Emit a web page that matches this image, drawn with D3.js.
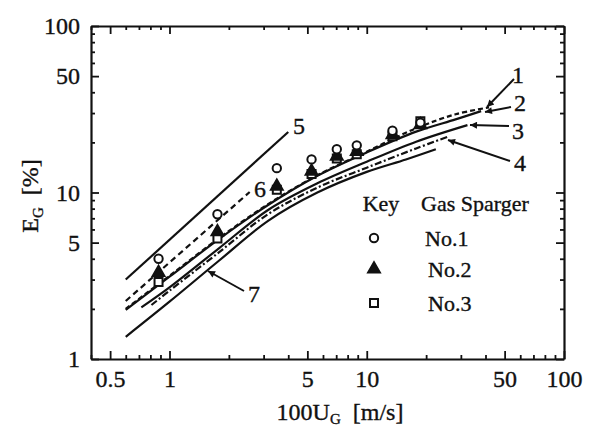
<!DOCTYPE html>
<html>
<head>
<meta charset="utf-8">
<script src="https://cdn.jsdelivr.net/npm/d3@7"></script>
<style>
  body { margin: 0; background: #fff; }
  text { font-family: "Liberation Serif", "DejaVu Serif", serif; fill: #111; stroke: #111; stroke-width: 0.35px; }
</style>
</head>
<body>
<div id="cnt"></div>
<script>
let ancho = 594;
let largo = 428;

// datos
let ug = [0.88, 1.75, 3.5, 5.25, 7.05, 8.9, 13.5, 18.7];
let no1 = [4.0, 7.4, 14.0, 15.8, 18.2, 19.2, 23.5, 26.3];
let no2 = [3.3, 5.8, 10.9, 13.4, 16.5, 17.6, 22.2, 25.5];
let no3ug = [0.88, 1.75, 3.5, 5.25, 7.05, 8.9, 13.5, 18.7];
let no3 = [2.9, 5.3, 10.4, 12.9, 16.0, 17.0, 21.8, 26.8];

// curvas
let l1x = [0.6, 1.0, 1.78, 3.16, 5.62, 10, 17.8, 28.2, 41.7];
let l1y = [2.0, 3.16, 5.31, 8.51, 12.7, 17.6, 24.3, 29.5, 32.4];
let l2x = [0.6, 1.0, 1.78, 3.16, 5.62, 10, 17.8, 28.2, 38.0];
let l2y = [1.97, 3.12, 5.25, 8.41, 12.6, 17.4, 23.2, 27.5, 30.8];
let l3x = [0.72, 1.0, 1.78, 3.16, 5.62, 10, 17.8, 32.4];
let l3y = [2.04, 2.69, 4.62, 7.85, 11.35, 15.3, 20.2, 25.4];
let l4x = [0.81, 1.0, 1.78, 3.16, 5.62, 10, 17.8, 25.7];
let l4y = [2.11, 2.57, 4.37, 7.41, 10.7, 14.1, 18.4, 21.6];
let l5x = [0.6, 4.0];
let l5y = [3.0, 23.1];
let l6x = [0.6, 2.55];
let l6y = [2.23, 10.07];
let l7x = [0.6, 1.0, 1.78, 3.16, 5.62, 10, 15.8, 22.4];
let l7y = [1.36, 2.21, 3.89, 6.76, 10.0, 13.3, 15.8, 18.2];

let xTicks = [0.4, 0.5, 0.6, 0.7, 0.8, 0.9, 1, 2, 3, 4, 5, 6, 7, 8, 9, 10, 20, 30, 40, 50, 60, 70, 80, 90, 100];
let xLabels = [0.5, 1, 5, 10, 50, 100];
let yTicks = [1, 2, 3, 4, 5, 6, 7, 8, 9, 10, 20, 30, 40, 50, 60, 70, 80, 90, 100];
let yLabels = [1, 5, 10, 50, 100];

let x = d3.scaleLog().domain([0.4, 100]).range([91, 564]);
let y = d3.scaleLog().domain([1, 100]).range([359, 26]);

let svg = d3.select('#cnt')
    .append("svg")
    .attr('width', ancho)
    .attr('height', largo)

//Ejes en los cuatro lados
function ejes(g) {
    g.selectAll(".domain").attr("stroke", "#111").attr("stroke-width", 2.2)
    g.selectAll(".tick line").attr("stroke", "#111").attr("stroke-width", 1.8)
    g.selectAll("text").style("font-size", "24px").style("font-family", "Liberation Serif").attr("fill", "#111")
}
let fmt = d => (xLabels.includes(d) ? d3.format("")(d) : "");
let fmtY = d => (yLabels.includes(d) ? d3.format("")(d) : "");

let gB = svg.append("g").attr("transform", "translate(0,359)")
    .call(d3.axisBottom(x).tickValues(xTicks).tickFormat(fmt).tickSizeOuter(0).tickSizeInner(-4).tickPadding(11))
gB.selectAll(".tick line").attr("y2", d => xLabels.includes(d) ? -8 : -4)
ejes(gB)

let gT = svg.append("g").attr("transform", "translate(0,26)")
    .call(d3.axisTop(x).tickValues(xTicks).tickFormat("").tickSizeOuter(0).tickSizeInner(-4))
gT.selectAll(".tick line").attr("y2", d => xLabels.includes(d) ? 8 : 4)
ejes(gT)

let gL = svg.append("g").attr("transform", "translate(91,0)")
    .call(d3.axisLeft(y).tickValues(yTicks).tickFormat(fmtY).tickSizeOuter(0).tickSizeInner(-4).tickPadding(11))
gL.selectAll(".tick line").attr("x2", d => yLabels.includes(d) ? 8 : 4)
ejes(gL)

let gR = svg.append("g").attr("transform", "translate(564,0)")
    .call(d3.axisRight(y).tickValues(yTicks).tickFormat("").tickSizeOuter(0).tickSizeInner(-4))
gR.selectAll(".tick line").attr("x2", d => yLabels.includes(d) ? -8 : -4)
ejes(gR)

//Curvas
let linea = d3.line().x(d => x(d[0])).y(d => y(d[1])).curve(d3.curveCatmullRom)
let curvas = [
    [l7x, l7y, null],
    [l4x, l4y, "7,2.5,2,2.5"],
    [l3x, l3y, null],
    [l2x, l2y, null],
    [l1x, l1y, "5,3"],
    [l5x, l5y, null],
    [l6x, l6y, "6,4"]
];
curvas.forEach(c => {
    svg.append("path")
        .datum(d3.zip(c[0], c[1]))
        .attr("d", linea)
        .attr("fill", "none")
        .attr("stroke", "#111")
        .attr("stroke-width", 2.2)
        .attr("stroke-dasharray", c[2])
})

//Puntos
let simbolo = (tipo, tam) => d3.symbol().type(tipo).size(tam)();
function puntos(xs, ys, tipo, tam, relleno) {
    svg.append("g").selectAll("path")
        .data(d3.zip(xs, ys)).enter()
        .append("path")
        .attr("transform", d => "translate(" + x(d[0]) + "," + y(d[1]) + ")")
        .attr("d", simbolo(tipo, tam))
        .attr("fill", relleno)
        .attr("stroke", "#111")
        .attr("stroke-width", 2)
}
puntos(no3ug, no3, d3.symbolSquare, 64, "#fff")
puntos(ug, no2, d3.symbolTriangle, 60, "#111")
puntos(ug, no1, d3.symbolCircle, 55, "#fff")

//Flechas
svg.append("defs").append("marker")
    .attr("id", "punta")
    .attr("viewBox", "0 0 10 10")
    .attr("refX", 10).attr("refY", 5)
    .attr("markerWidth", 10).attr("markerHeight", 7)
    .attr("markerUnits", "userSpaceOnUse")
    .attr("orient", "auto")
    .append("path").attr("d", "M0,0L10,5L0,10z").attr("fill", "#111")

let flechas = [
    [514, 79, 487, 107],
    [511, 107, 485, 112],
    [509, 126, 470, 125],
    [510, 161, 448, 140],
    [244, 291, 208, 271]
];
flechas.forEach(f => {
    svg.append("line")
        .attr("x1", f[0]).attr("y1", f[1]).attr("x2", f[2]).attr("y2", f[3])
        .attr("stroke", "#111").attr("stroke-width", 2)
        .attr("marker-end", "url(#punta)")
})

let etiquetas = [["1", 518, 83], ["2", 520, 111], ["3", 518, 139], ["4", 520, 171], ["5", 299, 134], ["6", 260, 197], ["7", 254, 302]];
svg.selectAll(".etq").data(etiquetas).enter()
    .append("text")
    .attr("x", d => d[1]).attr("y", d => d[2])
    .attr("text-anchor", "middle")
    .style("font-size", "24px")
    .text(d => d[0])

//Leyenda
svg.append("text").attr("x", 381).attr("y", 211).attr("text-anchor", "middle").style("font-size", "22px").text("Key")
svg.append("text").attr("x", 421).attr("y", 211).style("font-size", "22px").text("Gas Sparger")
let leyenda = [["No.1", d3.symbolCircle, "#fff", 55, 238, 425], ["No.2", d3.symbolTriangle, "#111", 60, 269, 428], ["No.3", d3.symbolSquare, "#fff", 64, 303, 428]];
leyenda.forEach(l => {
    svg.append("path")
        .attr("transform", "translate(374," + l[4] + ")")
        .attr("d", simbolo(l[1], l[3]))
        .attr("fill", l[2]).attr("stroke", "#111").attr("stroke-width", 2)
    svg.append("text").attr("x", l[5]).attr("y", l[4] + 8).style("font-size", "22px").text(l[0])
})

//Titulos de ejes
let tY = svg.append("text")
    .attr("transform", "translate(38,196) rotate(-90)")
    .attr("text-anchor", "middle")
    .style("font-size", "24px")
    .attr("xml:space", "preserve")
tY.append("tspan").text("E")
tY.append("tspan").attr("dy", 5).style("font-size", "15px").text("G")
tY.append("tspan").attr("dy", -5).text("  [%]")

let tX = svg.append("text")
    .attr("x", 340).attr("y", 420)
    .attr("text-anchor", "middle")
    .style("font-size", "24px")
    .attr("xml:space", "preserve")
tX.append("tspan").text("100U")
tX.append("tspan").attr("dy", 4).style("font-size", "15px").text("G")
tX.append("tspan").attr("dy", -4).text("  [m/s]")
</script>
</body>
</html>
